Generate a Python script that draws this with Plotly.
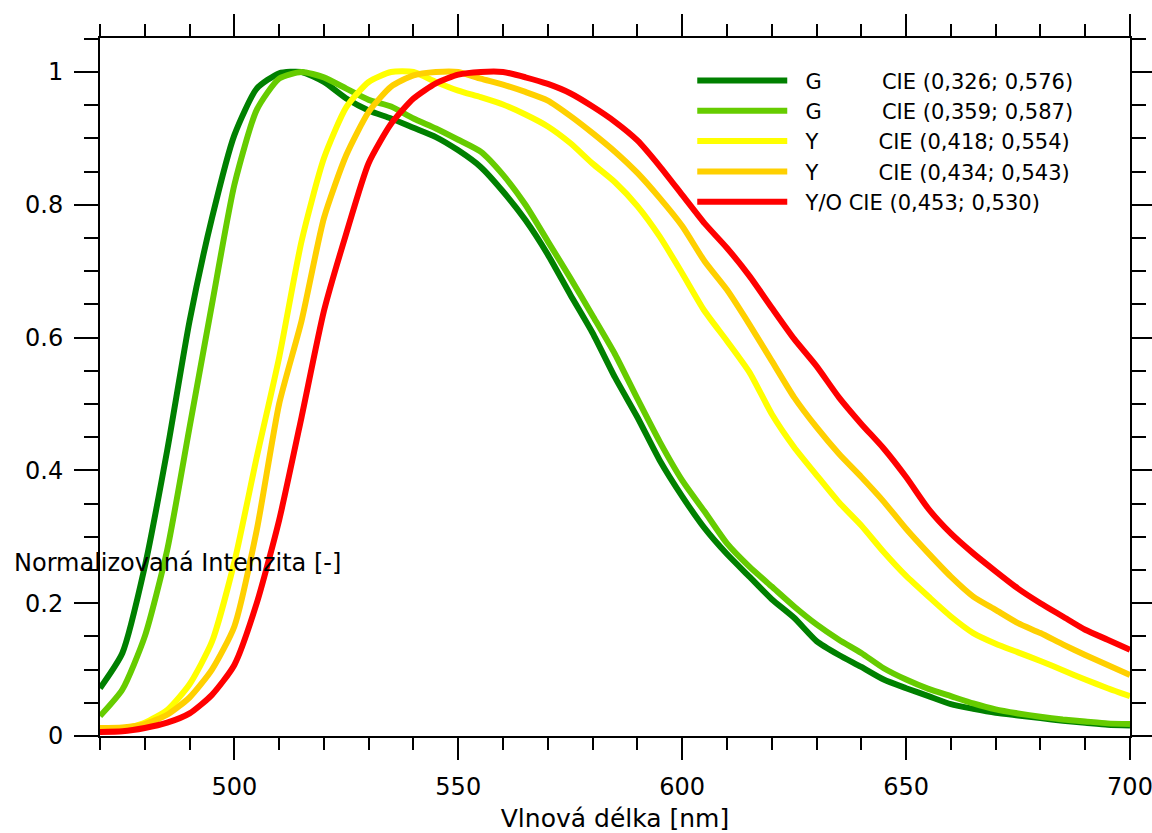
import plotly.graph_objects as go

# Wavelength grid [nm]
wavelength = list(range(470, 705, 5))

# Normalised emission spectra
g1_cie_0326 = [0.072, 0.125, 0.255, 0.43, 0.625, 0.78, 0.905, 0.975, 0.998, 1.0,
               0.985, 0.96, 0.942, 0.93, 0.916, 0.902, 0.882, 0.857, 0.82, 0.777,
               0.725, 0.665, 0.607, 0.54, 0.48, 0.415, 0.361, 0.313, 0.274, 0.24,
               0.206, 0.178, 0.143, 0.122, 0.104, 0.085, 0.072, 0.06, 0.048, 0.041,
               0.035, 0.031, 0.027, 0.023, 0.02, 0.017, 0.016]
g2_cie_0359 = [0.03, 0.07, 0.15, 0.28, 0.465, 0.65, 0.83, 0.943, 0.99, 1.0,
               0.992, 0.975, 0.958, 0.948, 0.93, 0.915, 0.898, 0.88, 0.845, 0.80,
               0.745, 0.69, 0.633, 0.575, 0.508, 0.443, 0.385, 0.338, 0.29, 0.255,
               0.225, 0.195, 0.168, 0.145, 0.125, 0.102, 0.085, 0.071, 0.06, 0.049,
               0.04, 0.034, 0.029, 0.025, 0.022, 0.019, 0.018]
y1_cie_0418 = [0.009, 0.01, 0.02, 0.039, 0.078, 0.142, 0.262, 0.42, 0.57, 0.745,
               0.87, 0.947, 0.985, 1.0, 1.0, 0.985, 0.972, 0.962, 0.951, 0.936,
               0.918, 0.893, 0.862, 0.834, 0.798, 0.752, 0.697, 0.64, 0.595, 0.548,
               0.485, 0.435, 0.393, 0.352, 0.317, 0.277, 0.241, 0.21, 0.18, 0.155,
               0.139, 0.126, 0.113, 0.099, 0.085, 0.072, 0.06]
y2_cie_0434 = [0.012, 0.013, 0.018, 0.032, 0.058, 0.1, 0.165, 0.31, 0.5, 0.625,
               0.78, 0.875, 0.94, 0.978, 0.995, 1.0, 1.0, 0.99, 0.981, 0.97,
               0.957, 0.934, 0.908, 0.88, 0.848, 0.81, 0.768, 0.715, 0.672, 0.62,
               0.565, 0.51, 0.465, 0.425, 0.39, 0.353, 0.312, 0.275, 0.24, 0.21,
               0.19, 0.17, 0.155, 0.138, 0.122, 0.107, 0.092]
yo_cie_0453 = [0.006, 0.007, 0.012, 0.02, 0.034, 0.062, 0.107, 0.2, 0.325, 0.48,
               0.64, 0.757, 0.863, 0.922, 0.96, 0.983, 0.996, 1.0, 1.0, 0.992,
               0.982, 0.968, 0.948, 0.925, 0.897, 0.858, 0.815, 0.772, 0.735, 0.693,
               0.645, 0.598, 0.557, 0.51, 0.47, 0.433, 0.39, 0.342, 0.305, 0.275,
               0.248, 0.222, 0.2, 0.18, 0.16, 0.145, 0.13]

NB = "\u00a0"
series_names = [
    NB * 2 + "G" + NB * 9 + "CIE (0,326; 0,576)",
    NB * 2 + "G" + NB * 9 + "CIE (0,359; 0,587)",
    NB * 2 + "Y" + NB * 9 + "CIE (0,418; 0,554)",
    NB * 2 + "Y" + NB * 9 + "CIE (0,434; 0,543)",
    NB * 2 + "Y/O" + NB + "CIE (0,453; 0,530)",
]
series_values = [g1_cie_0326, g2_cie_0359, y1_cie_0418, y2_cie_0434, yo_cie_0453]
series_colors = ["#008000", "#66CC00", "#FFFF00", "#FFD000", "#FF0000"]

FONT = "DejaVu Sans, Verdana, sans-serif"

fig = go.Figure()
for name, vals, col in zip(series_names, series_values, series_colors):
    fig.add_trace(go.Scatter(
        x=wavelength, y=vals, name=name, mode="lines",
        line=dict(color=col, width=6, shape="spline", smoothing=0.6),
    ))

axis_common = dict(
    showline=True, linecolor="black", linewidth=2,
    mirror="allticks", ticks="outside", tickcolor="black", tickwidth=2,
    showgrid=False, zeroline=False, automargin=False,
    ticklabeloverflow="allow",
    tickfont=dict(family=FONT, size=24, color="black"),
)

fig.update_xaxes(
    range=[470, 700], tick0=500, dtick=50, ticklen=22,
    minor=dict(dtick=10, tick0=470, ticks="outside", ticklen=12,
               tickcolor="black", tickwidth=2, showgrid=False),
    ticklabelstandoff=6,
    title=dict(text="Vlnová délka [nm]", standoff=14,
               font=dict(family=FONT, size=25, color="black")),
    **axis_common,
)
fig.update_yaxes(
    range=[0, 1.0512], tick0=0, dtick=0.2, ticklen=24,
    minor=dict(dtick=0.05, tick0=0, ticks="outside", ticklen=14,
               tickcolor="black", tickwidth=2, showgrid=False),
    ticklabelstandoff=6,
    **axis_common,
)

fig.add_annotation(
    text="Normalizovaná Intenzita [-]", xref="paper", yref="paper",
    x=(12 - 100) / 1030, y=(736 - 563) / 698, xanchor="left", yanchor="middle",
    showarrow=False, font=dict(family=FONT, size=24, color="black"),
)

fig.update_layout(
    width=1152, height=833,
    margin=dict(l=100, r=22, t=38, b=97),
    paper_bgcolor="white", plot_bgcolor="white",
    showlegend=True,
    legend=dict(
        x=0.575, y=0.968, xanchor="left", yanchor="top",
        bgcolor="rgba(0,0,0,0)", borderwidth=0,
        font=dict(family=FONT, size=21, color="black"),
        itemwidth=90, tracegroupgap=0,
    ),
)

fig.write_html("out.html")
